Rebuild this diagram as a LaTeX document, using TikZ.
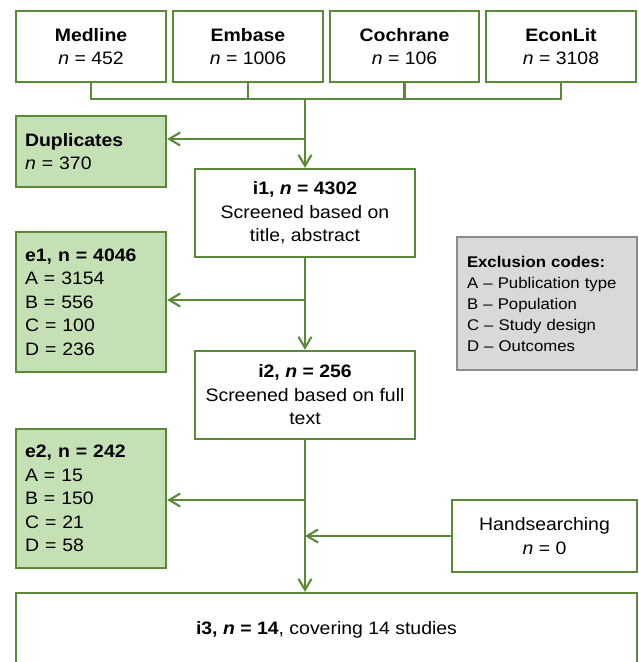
\documentclass[tikz,border=0pt]{standalone}
\usepackage{fontspec}
\setmainfont{Liberation Sans}[FakeStretch=1.08]
\usetikzlibrary{arrows.meta}
\definecolor{gline}{HTML}{5A8A38}
\definecolor{gfill}{HTML}{C5E0B4}
\definecolor{xfill}{HTML}{D9D9D9}
\definecolor{xline}{HTML}{8C8C8C}
\begin{document}
\begin{tikzpicture}[x=1pt,y=-1pt,
  box/.style={draw=gline,line width=2.3pt,fill=white,inner sep=0pt,align=center,
    font=\fontsize{18}{23.5}\selectfont},
  gbox/.style={box,fill=gfill,align=left,text width=132pt,minimum width=150pt},
  conn/.style={draw=gline,line width=2.1pt},
  arr/.style={conn,-{Straight Barb[length=11pt,width=13pt]}}]
\useasboundingbox (0,0) rectangle (638,662);
\clip (0,0) rectangle (638,662);
% top sources
\node[box,minimum width=150pt,minimum height=71pt] (med) at (91,46.5) {\textbf{Medline}\\\textit{n} = 452};
\node[box,minimum width=150pt,minimum height=71pt] (emb) at (248,46.5) {\textbf{Embase}\\\textit{n} = 1006};
\node[box,minimum width=149pt,minimum height=71pt] (coch) at (404.5,46.5) {\textbf{Cochrane}\\\textit{n} = 106};
\node[box,minimum width=150pt,minimum height=71pt] (econ) at (561,46.5) {\textbf{EconLit}\\\textit{n} = 3108};
% main boxes
\node[box,minimum width=220pt,minimum height=88pt] (i1) at (305,213) {\textbf{i1, \textit{n} = 4302}\\Screened based on\\title, abstract};
\node[box,minimum width=220pt,minimum height=88pt] (i2) at (305,395) {\textbf{i2, \textit{n} = 256}\\Screened based on full\\text};
\node[box,minimum width=621pt,minimum height=74pt] (i3) at (326.5,630) {\textbf{i3, \textit{n} = 14}, covering 14 studies};
% exclusion boxes
\node[gbox,minimum height=71pt] (dup) at (91,151.5) {\textbf{Duplicates}\\\textit{n} = 370};
\node[gbox,minimum height=140pt] (e1) at (91,302) {\textbf{e1, n = 4046}\\A = 3154\\B = 556\\C = 100\\D = 236};
\node[gbox,minimum height=139pt] (e2) at (91,498.5) {\textbf{e2, n = 242}\\A = 15\\B = 150\\C = 21\\D = 58};
% legend
\node[box,draw=xline,fill=xfill,align=left,text width=160pt,minimum width=180pt,minimum height=133pt,
  font=\fontsize{15.5}{21}\selectfont] (excl) at (547,303.5)
  {\textbf{Exclusion codes:}\\A -- Publication type\\B -- Population\\C -- Study design\\D -- Outcomes};
% handsearching
\node[box,minimum width=185pt,minimum height=72pt] (hand) at (544.5,536) {Handsearching\\\textit{n} = 0};
% connectors
\coordinate (bus) at (305,99);
\draw[conn] (med.south) -- (med.south |- bus) -- (econ.south |- bus) -- (econ.south);
\draw[conn] (emb.south) -- (emb.south |- bus);
\draw[conn] (coch.south) -- (coch.south |- bus);
\draw[arr] (bus) -- (i1.north);
\coordinate (j1) at (305,139);
\draw[arr] (j1) -- (dup.east |- j1);
\draw[arr] (i1.south) -- (i2.north);
\coordinate (j2) at (305,300);
\draw[arr] (j2) -- (e1.east |- j2);
\draw[arr] (i2.south) -- (i2.south |- i3.north);
\coordinate (j3) at (305,500);
\draw[arr] (j3) -- (e2.east |- j3);
\draw[arr] (hand.west) -- (i2.south |- hand.west);
\end{tikzpicture}
\end{document}
